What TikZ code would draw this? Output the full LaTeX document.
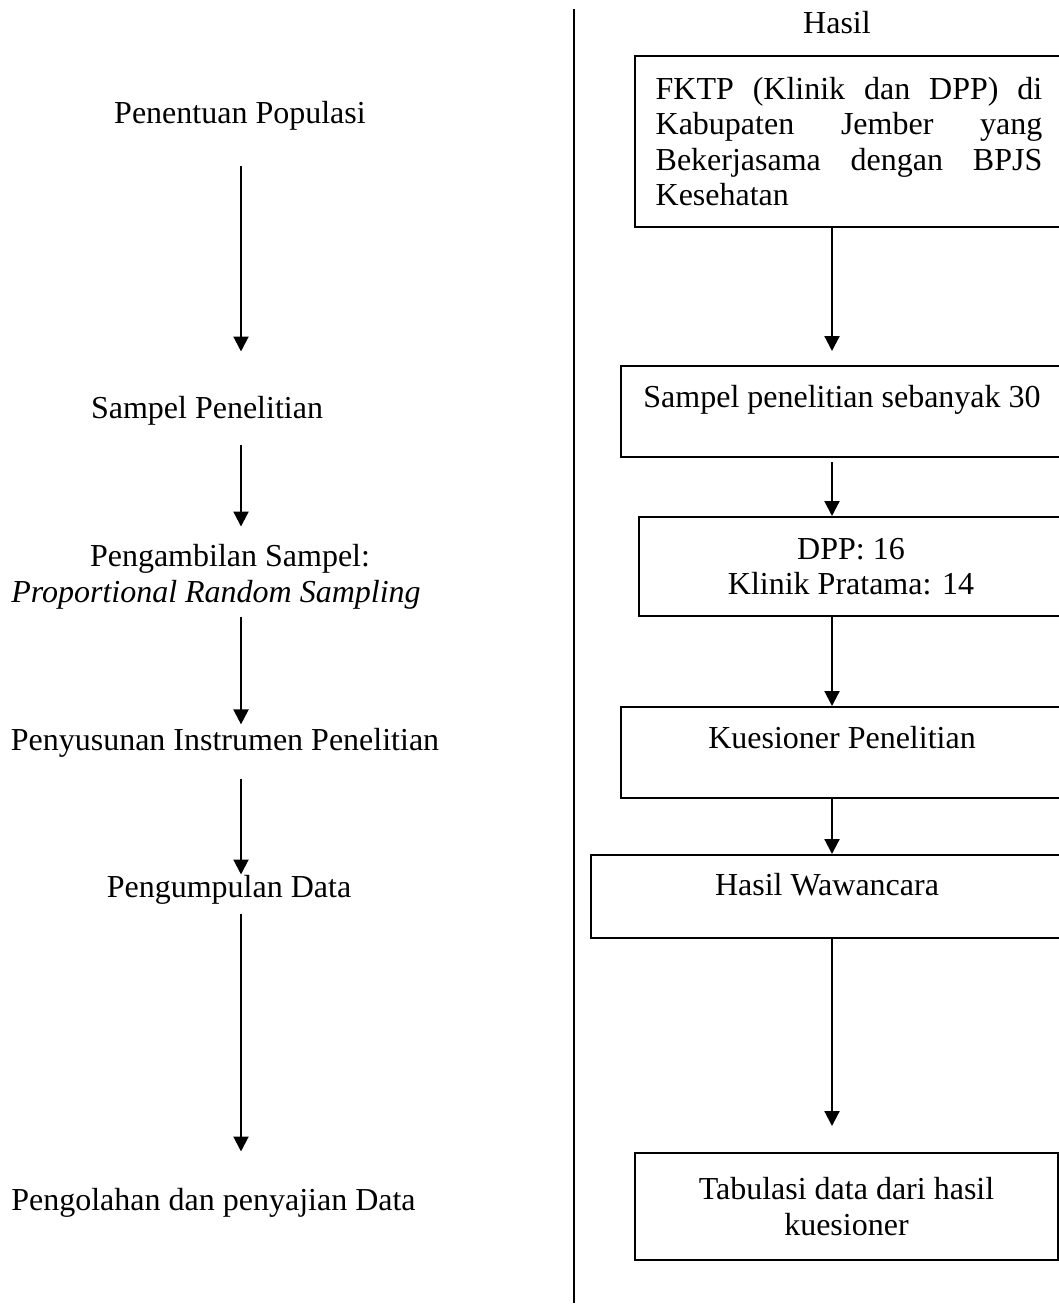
\documentclass[tikz,border=0pt]{standalone}
\usepackage{fontspec}
\setmainfont{Liberation Serif}
\usepackage{tikz}
\usetikzlibrary{arrows.meta}
\tikzset{
  lab/.style={font=\fontsize{12}{13.3}\selectfont, inner sep=0pt, text height=9pt, text depth=3pt, anchor=base},
  box/.style={draw, line width=0.75pt, font=\fontsize{12}{13.3}\selectfont, inner sep=0pt, align=center, anchor=north west},
  arr/.style={draw, line width=0.8pt, -{Triangle[length=5.6pt,width=5.6pt]}},
  rule/.style={draw, line width=0.8pt},
}
\begin{document}
\begin{tikzpicture}[x=0.375pt, y=-0.375pt]
  \useasboundingbox (0,0) rectangle (1059,1306);
  \coordinate (lc) at (241,0);
  \coordinate (rc) at (832,0);

  % tahapan (kiri)
  \node[lab] (pop)    at (240,123)  {Penentuan Populasi};
  \node[lab] (sampel) at (207,418)  {Sampel Penelitian};
  \node[lab] (ambil)  at (230,566)  {Pengambilan Sampel:};
  \node[lab] (metode) at (216,602)  {\textit{Proportional Random Sampling}};
  \node[lab] (instr)  at (225,750)  {Penyusunan Instrumen Penelitian};
  \node[lab] (kumpul) at (229,897)  {Pengumpulan Data};
  \node[lab] (olah)   at (213.5,1210) {Pengolahan dan penyajian Data};

  \draw[arr, shorten <=13.1pt, shorten >=15.75pt] (pop.south -| lc) -- (sampel.north -| lc);
  \draw[arr, shorten <=6.75pt, shorten >=5.6pt] (sampel.south -| lc) -- (ambil.north -| lc);
  \draw[arr, shorten <=2.25pt, shorten >=0.4pt] (metode.south -| lc) -- (instr.north -| lc);
  \draw[arr, shorten <=7.5pt, shorten >=-0.75pt] (instr.south -| lc) -- (kumpul.north -| lc);
  \draw[arr, shorten <=3pt, shorten >=12.75pt] (kumpul.south -| lc) -- (olah.north -| lc);

  % pemisah
  \draw[rule] (574,9) -- (574,1303);

  % hasil (kanan)
  \node[lab] (hasil) at (837,33) {Hasil};
  \node[box, text width=145pt, align=justify, minimum width=160.5pt, minimum height=64.1pt] (fktp) at (634,55)
    {\tolerance=10000 FKTP (Klinik dan DPP) di\linebreak Kabupaten Jember yang\linebreak Bekerjasama dengan BPJS\linebreak Kesehatan};
  \node[box, minimum width=165.75pt, minimum height=34.1pt] (sampel30) at (620,365) {Sampel penelitian sebanyak 30\\[-2pt]~};
  \node[box, minimum width=159pt, minimum height=37.1pt] (jumlah) at (638,516) {DPP: 16\\Klinik Pratama: 14};
  \node[box, minimum width=165.75pt, minimum height=34.1pt] (kues) at (620,706) {Kuesioner Penelitian\\[-2pt]~};
  \node[box, minimum width=177pt, minimum height=31.1pt] (wawan) at (590,854) {Hasil Wawancara\\[-4.5pt]~};
  \node[box, minimum width=158.6pt, minimum height=40.1pt] (tabul) at (634,1152) {Tabulasi data dari hasil\\kuesioner};

  \draw[arr, shorten >=5.25pt] (fktp.south -| rc) -- (sampel30.north -| rc);
  \draw[arr, shorten <=1.5pt] (sampel30.south -| rc) -- (jumlah.north -| rc);
  \draw[arr] (jumlah.south -| rc) -- (kues.north -| rc);
  \draw[arr] (kues.south -| rc) -- (wawan.north -| rc);
  \draw[arr, shorten >=9.75pt] (wawan.south -| rc) -- (tabul.north -| rc);
\end{tikzpicture}
\end{document}
